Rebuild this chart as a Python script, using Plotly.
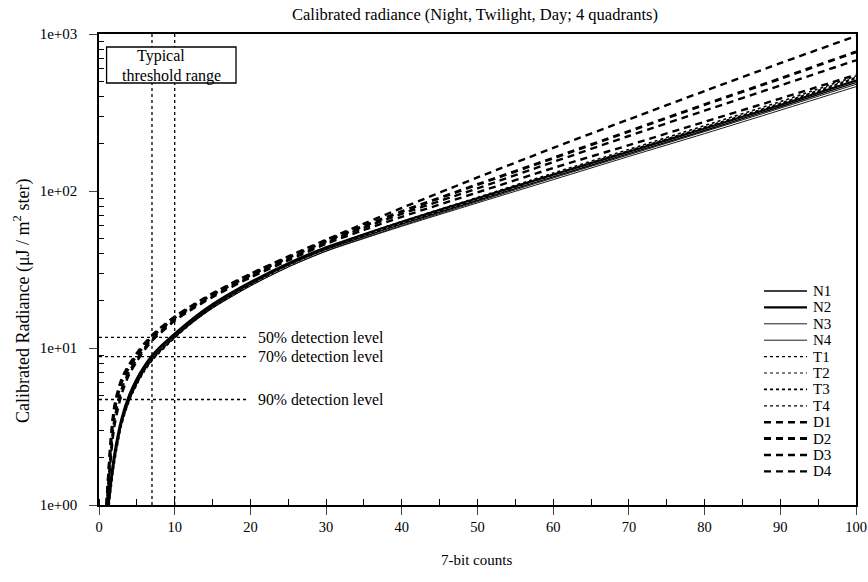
import math
import plotly.graph_objects as go

counts = [1, 2, 3, 4, 5, 6, 7, 8, 10, 12, 15, 20, 25, 30, 35, 40, 50, 60, 70, 80, 90, 100]

n1 = [0.8, 2.0, 3.5, 4.9, 6.2, 7.5, 8.7, 9.8, 12.0, 14.5, 18.5, 25.5, 33.7, 42.5, 51.3, 61.6, 87, 123, 173, 243, 344, 490]
n2 = [0.85, 2.08, 3.6, 5.05, 6.4, 7.7, 8.95, 10.1, 12.35, 14.9, 19.0, 26.3, 34.7, 43.8, 53, 63.7, 90, 127, 178, 250, 353, 505]
n3 = [0.78, 1.95, 3.43, 4.8, 6.08, 7.35, 8.5, 9.6, 11.75, 14.15, 18.0, 24.9, 32.8, 41.3, 49.8, 59.6, 84, 118, 166, 232, 327, 462]
n4 = [0.77, 1.92, 3.4, 4.75, 6.0, 7.28, 8.45, 9.5, 11.65, 14.05, 17.9, 24.8, 32.8, 41.5, 50.2, 60.3, 85.5, 121, 170, 239, 337, 478]

t1 = [0.72, 1.85, 3.3, 4.65, 5.9, 7.2, 8.35, 9.45, 11.6, 14.1, 18.1, 25.3, 33.6, 42.6, 51.7, 62.3, 88.5, 126, 178, 251, 356, 520]
t2 = [0.74, 1.88, 3.35, 4.7, 6.0, 7.3, 8.45, 9.55, 11.8, 14.3, 18.4, 25.7, 34.1, 43.2, 52.4, 63.2, 90, 128, 181, 256, 363, 530]
t3 = [0.7, 1.8, 3.25, 4.6, 5.85, 7.1, 8.3, 9.35, 11.6, 14.15, 18.3, 25.7, 34.2, 43.5, 52.9, 63.9, 91, 130, 184, 261, 371, 540]
t4 = [0.73, 1.86, 3.3, 4.65, 5.95, 7.2, 8.4, 9.5, 11.75, 14.2, 18.35, 25.6, 34.0, 43.0, 52.2, 63, 89.5, 127, 180, 254, 360, 528]

d1 = [1.0, 4.2, 6.4, 7.9, 9.3, 10.7, 12.1, 13.3, 15.9, 18.3, 22.3, 29.7, 38.3, 49, 62, 78, 122, 188, 286, 433, 652, 970]
d2 = [1.0, 3.9, 6.1, 7.6, 9.0, 10.4, 11.8, 13.0, 15.6, 18.0, 21.9, 29.2, 37.6, 48, 60, 74, 110, 162, 240, 355, 520, 770]
d3 = [0.95, 3.4, 5.5, 7.1, 8.5, 10.0, 11.4, 12.6, 15.2, 17.6, 21.5, 28.7, 36.9, 47, 58.5, 71.5, 104, 153, 224, 325, 470, 680]
d4 = [0.92, 3.1, 5.1, 6.8, 8.2, 9.7, 11.1, 12.3, 14.9, 17.3, 21.1, 28.1, 36.1, 46, 56.5, 68.5, 98, 140, 196, 276, 388, 550]

series_names = ["N1", "N2", "N3", "N4", "T1", "T2", "T3", "T4", "D1", "D2", "D3", "D4"]
series_values = [n1, n2, n3, n4, t1, t2, t3, t4, d1, d2, d3, d4]

threshold_counts = [7, 10]
threshold_box_counts = [1.0, 18.1]
detection_levels = [11.7, 8.8, 4.7]
detection_labels = ["50% detection level", "70% detection level", "90% detection level"]
detection_line_end = 19.7
detection_label_x = 20.8

y_tickvals = [1, 10, 100, 1000]
y_ticktext = ["1e+00", "1e+01", "1e+02", "1e+03"]
y_minor = [m * 10 ** e for e in range(3) for m in range(2, 10)]

styles = {
    "N1": dict(width=1.4, dash="solid"),
    "N2": dict(width=2.2, dash="solid"),
    "N3": dict(width=0.9, dash="solid"),
    "N4": dict(width=0.9, dash="solid"),
    "T1": dict(width=1.4, dash="dot"),
    "T2": dict(width=1.2, dash="dot"),
    "T3": dict(width=1.6, dash="dot"),
    "T4": dict(width=1.2, dash="dot"),
    "D1": dict(width=2.4, dash="7px,5px"),
    "D2": dict(width=3.0, dash="7px,5px"),
    "D3": dict(width=2.4, dash="7px,5px"),
    "D4": dict(width=2.4, dash="7px,5px"),
}

FONT = "Liberation Serif"
fig = go.Figure()
for name, vals in zip(series_names, series_values):
    st = styles[name]
    fig.add_trace(go.Scatter(
        x=counts, y=vals, mode="lines", name=name, showlegend=False,
        line=dict(color="black", width=st["width"], dash=st["dash"], shape="spline", smoothing=0.8),
    ))

plot_l, plot_r, plot_t, plot_b = 99, 856, 34, 505
def px_x(p):
    return (p - plot_l) / (plot_r - plot_l)
def px_y(p):
    return (plot_b - p) / (plot_b - plot_t)

# legend drawn in paper coordinates so the tight row spacing of the original is kept
for i, name in enumerate(series_names):
    st = styles[name]
    yrow = px_y(291 + 16.4 * i)
    fig.add_shape(type="line", xref="paper", yref="paper", x0=px_x(764), x1=px_x(807), y0=yrow, y1=yrow,
                  line=dict(color="black", width=st["width"], dash=st["dash"]))
    fig.add_annotation(xref="paper", yref="paper", x=px_x(811), y=yrow, text=name, showarrow=False,
                       xanchor="left", yanchor="middle", font=dict(family=FONT, size=15, color="black"))

for xv in threshold_counts:
    fig.add_shape(type="line", xref="x", yref="paper", x0=xv, x1=xv, y0=0, y1=1,
                  line=dict(color="black", width=1.3, dash="dot"))
for lvl, lab in zip(detection_levels, detection_labels):
    fig.add_shape(type="line", xref="x", yref="y", x0=0, x1=detection_line_end, y0=lvl, y1=lvl,
                  line=dict(color="black", width=1.3, dash="dot"))
    fig.add_annotation(x=detection_label_x, y=math.log10(lvl), yref="y", xref="x", text=lab, showarrow=False,
                       xanchor="left", yanchor="middle", font=dict(family=FONT, size=15.8, color="black"))

# "Typical threshold range" box
fig.add_shape(type="rect", xref="x", yref="paper", x0=threshold_box_counts[0], x1=threshold_box_counts[1],
              y0=px_y(83), y1=px_y(47), fillcolor="white", line=dict(color="black", width=1.3))
fig.add_annotation(xref="paper", yref="paper", x=px_x(161), y=px_y(65.5), text="Typical", showarrow=False,
                   xanchor="center", yanchor="bottom", borderpad=0,
                   font=dict(family=FONT, size=16, color="black"))
fig.add_annotation(xref="paper", yref="paper", x=px_x(171), y=px_y(65.5), text="threshold range",
                   showarrow=False, xanchor="center", yanchor="top", borderpad=0,
                   font=dict(family=FONT, size=16, color="black"))

fig.add_annotation(xref="paper", yref="paper", x=px_x(22), y=px_y(301), textangle=-90,
                   text="Calibrated Radiance (μJ / m<sup>2</sup> ster)", showarrow=False,
                   xanchor="center", yanchor="middle", font=dict(family=FONT, size=18, color="black"))
fig.add_annotation(xref="paper", yref="paper", x=px_x(476), y=px_y(560), text="7-bit counts", showarrow=False,
                   xanchor="center", yanchor="middle", font=dict(family=FONT, size=15, color="black"))

fig.update_layout(
    width=868, height=582, autosize=False,
    margin=dict(l=99, r=12, t=34, b=77, autoexpand=False),
    paper_bgcolor="white", plot_bgcolor="white",
    font=dict(family=FONT, size=14, color="black"),
    title=dict(text="Calibrated radiance (Night, Twilight, Day; 4 quadrants)", x=px_x(475), xref="paper",
               y=1 - 14 / 582, yref="container", yanchor="middle", xanchor="center",
               font=dict(family=FONT, size=16.5, color="black")),
    showlegend=False,
    xaxis=dict(range=[0, 100], tickmode="linear", tick0=0, dtick=10, ticks="outside", ticklen=8,
               tickwidth=1.3, showline=True, linecolor="black", linewidth=1.5, mirror=True,
               showgrid=False, zeroline=False, tickfont=dict(family=FONT, size=14.5), automargin=False,
               minor=dict(ticks="inside", dtick=5, tick0=0, ticklen=6, tickwidth=1.2, tickcolor="black")),
    yaxis=dict(type="log", range=[0, 3], tickmode="array", tickvals=y_tickvals, ticktext=y_ticktext,
               ticks="outside", ticklen=8, tickwidth=1.3, showline=True, linecolor="black", linewidth=1.5,
               mirror=True, showgrid=False, zeroline=False, tickfont=dict(family=FONT, size=15),
               ticklabelstandoff=9, automargin=False,
               minor=dict(ticks="inside", tickmode="array", tickvals=y_minor, ticklen=5, tickwidth=1.1,
                          tickcolor="black")),
)

fig.write_html("out.html", config={"responsive": False})
